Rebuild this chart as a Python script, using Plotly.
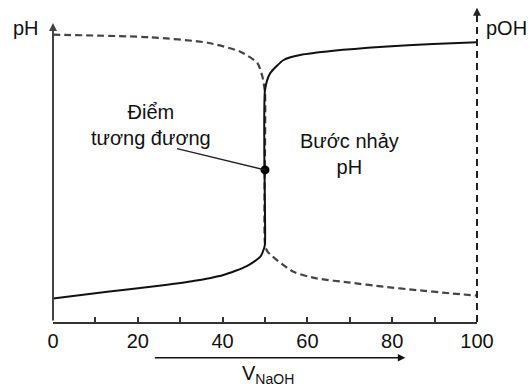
import plotly.graph_objects as go

# Titration data
ph_x = [0, 12.8, 24.5, 32.4, 40.2, 45.7, 48.9, 49.8, 50, 50, 51.2, 54.4, 58.3, 66.1, 77.9, 89.6, 100]
ph_y = [1.10, 1.42, 1.69, 1.90, 2.21, 2.63, 3.07, 3.48, 3.67, 10.91, 11.69, 12.32, 12.55, 12.75, 12.94, 13.07, 13.15]

poh_x = [0, 23, 36.5, 44.2, 48.2, 49.4, 50, 50, 50.6, 56.7, 62.2, 70.1, 77.9, 85.8, 93.6, 100]
poh_y = [13.51, 13.39, 13.13, 12.71, 12.18, 11.53, 10.77, 3.67, 3.31, 2.36, 2.05, 1.85, 1.66, 1.50, 1.35, 1.24]

eq_x = [50]
eq_y = [7.15]

tick_vals = [0, 10, 20, 30, 40, 50, 60, 70, 80, 90, 100]
tick_text = ["0", "", "20", "", "40", "", "60", "", "80", "", "100"]

FONT = "Liberation Sans, Arial, sans-serif"

fig = go.Figure()
fig.add_trace(go.Scatter(x=poh_x, y=poh_y, mode="lines",
                         line=dict(color="#444", width=2.2, dash="7px,4px", shape="spline", smoothing=0.6),
                         hoverinfo="skip"))
fig.add_trace(go.Scatter(x=ph_x, y=ph_y, mode="lines",
                         line=dict(color="#111", width=2, shape="spline", smoothing=0.6),
                         hoverinfo="skip"))
fig.add_trace(go.Scatter(x=eq_x, y=eq_y, mode="markers",
                         marker=dict(color="#000", size=9), cliponaxis=False, hoverinfo="skip"))

txt = dict(showarrow=False, xanchor="center", yanchor="middle")

annotations = [
    # left pH axis with arrow
    dict(x=0, y=14.06, xref="x", yref="y", ax=0, ay=0, axref="x", ayref="y",
         showarrow=True, arrowhead=2, arrowsize=0.8, arrowwidth=2, arrowcolor="#444", text=""),
    # right pOH axis arrow head
    dict(x=1, y=14.78, xref="paper", yref="y", ax=0, ay=8, showarrow=True,
         arrowhead=2, arrowsize=0.8, arrowwidth=2, arrowcolor="#222", text=""),
    dict(x=-0.0648, y=0.9216, xref="paper", yref="paper", text="pH",
         font=dict(family=FONT, size=20, color="#111"), **txt),
    dict(x=1.07, y=0.9216, xref="paper", yref="paper", text="pOH",
         font=dict(family=FONT, size=20, color="#111"), **txt),
    dict(x=23.0, y=9.26, xref="x", yref="y", text="Điểm<br>tương đương",
         font=dict(family=FONT, size=20, color="#111"), **txt),
    dict(x=69.9, y=7.92, xref="x", yref="y", text="Bước nhảy<br>pH",
         font=dict(family=FONT, size=20, color="#111"), **txt),
    # leader line to equivalence point
    dict(x=eq_x[0], y=eq_y[0], xref="x", yref="y", ax=28.9, ay=8.17, axref="x", ayref="y",
         showarrow=True, arrowhead=0, arrowwidth=1.5, arrowcolor="#222", text=""),
    # V_NaOH arrow
    dict(x=83.1, y=-0.112, xref="x", yref="paper", ax=-252, ay=0, showarrow=True,
         arrowhead=2, arrowsize=1, arrowwidth=1.5, arrowcolor="#111", text=""),
    dict(x=50.8, y=-0.166, xref="x", yref="paper", text="V<sub>NaOH</sub>",
         font=dict(family=FONT, size=20, color="#111"), **txt),
]

shapes = [
    dict(type="line", xref="paper", yref="y", x0=1, x1=1, y0=0, y1=14.5,
         line=dict(color="#222", width=2, dash="7px,5px")),
]

fig.update_layout(
    width=531, height=389,
    margin=dict(l=52.5, r=54.3, t=3, b=67),
    paper_bgcolor="white", plot_bgcolor="white",
    showlegend=False,
    annotations=annotations,
    shapes=shapes,
    xaxis=dict(range=[0, 100], showgrid=False, zeroline=False, showline=True,
               linecolor="#333", linewidth=2, ticks="inside", ticklen=5, tickwidth=1.5,
               tickcolor="#333", tickvals=tick_vals, ticktext=tick_text,
               tickfont=dict(family=FONT, size=20, color="#111"), automargin=False),
    yaxis=dict(range=[0, 15], showgrid=False, zeroline=False, showline=False,
               showticklabels=False, ticks="", automargin=False),
)

fig.write_html("out.html", config={"displayModeBar": False},
               post_script="document.body.style.margin='0';")
